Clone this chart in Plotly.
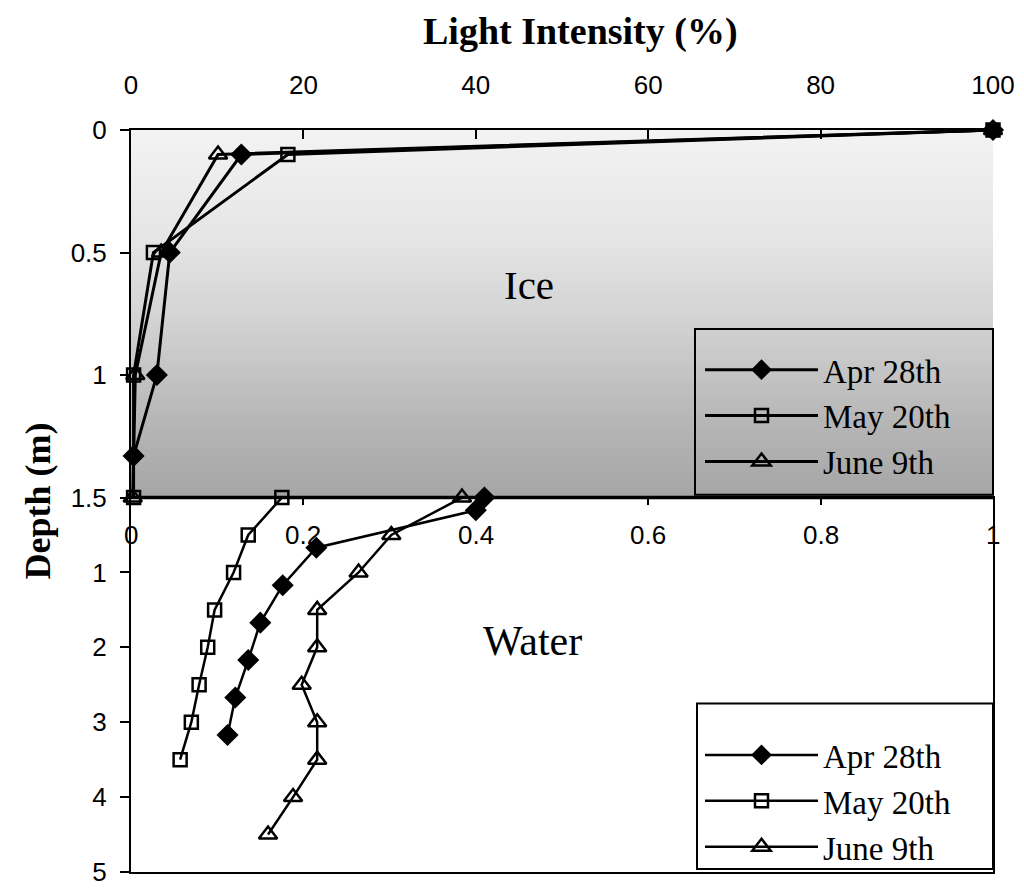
import base64
import struct
import zlib

import plotly.graph_objects as go

# ---------------- data ----------------
SERIES = ["Apr 28th", "May 20th", "June 9th"]

# Ice panel: light intensity (%) vs depth (m)
ICE_DEPTH_APR = [0, 0.1, 0.5, 1.0, 1.33]
ICE_LIGHT_APR = [100, 12.8, 4.5, 3.0, 0.3]
ICE_DEPTH_MAY = [0, 0.1, 0.5, 1.0, 1.5]
ICE_LIGHT_MAY = [100, 18.2, 2.6, 0.3, 0.3]
ICE_DEPTH_JUNE = [0, 0.1, 0.5, 1.0, 1.5]
ICE_LIGHT_JUNE = [100, 10.1, 3.5, 0.5, 0.2]

# Water panel: light intensity (%) vs depth below ice (m)
WATER_DEPTH_APR = [0, 0.17, 0.67, 1.17, 1.67, 2.17, 2.67, 3.17]
WATER_LIGHT_APR = [0.41, 0.40, 0.215, 0.176, 0.15, 0.136, 0.121, 0.112]
WATER_DEPTH_MAY = [0, 0.5, 1, 1.5, 2, 2.5, 3, 3.5]
WATER_LIGHT_MAY = [0.175, 0.136, 0.119, 0.097, 0.089, 0.079, 0.070, 0.057]
WATER_DEPTH_JUNE = [0, 0.5, 1, 1.5, 2, 2.5, 3, 3.5, 4, 4.5]
WATER_LIGHT_JUNE = [0.384, 0.302, 0.264, 0.216, 0.216, 0.198, 0.216, 0.216, 0.188, 0.159]

ICE_X_TICKS = [0, 20, 40, 60, 80, 100]
ICE_Y_TICKS = [0, 0.5, 1, 1.5]
ICE_Y_LABELS = ["0", "0.5", "1", "1.5"]
WATER_X_TICKS = [0, 0.2, 0.4, 0.6, 0.8, 1]
WATER_X_LABELS = ["0", "0.2", "0.4", "0.6", "0.8", "1"]
WATER_Y_TICKS = [1, 2, 3, 4, 5]

# ---------------- ice background gradient (png) ----------------
GRAD_STOPS = [(0.0, 243), (0.3, 229), (0.55, 208), (0.8, 182), (1.0, 166)]


def gray_at(t):
    for (t0, g0), (t1, g1) in zip(GRAD_STOPS[:-1], GRAD_STOPS[1:]):
        if t0 <= t <= t1:
            return int(round(g0 + (g1 - g0) * (t - t0) / (t1 - t0)))
    return GRAD_STOPS[-1][1]


def make_png(w, h):
    rows = []
    for j in range(h):
        g = gray_at(j / (h - 1))
        rows.append(b"\x00" + bytes([g] * w))
    raw = b"".join(rows)

    def chunk(tag, data):
        c = struct.pack(">I", len(data)) + tag + data
        return c + struct.pack(">I", zlib.crc32(tag + data) & 0xFFFFFFFF)

    ihdr = struct.pack(">IIBBBBB", w, h, 8, 0, 0, 0, 0)
    return (b"\x89PNG\r\n\x1a\n" + chunk(b"IHDR", ihdr)
            + chunk(b"IDAT", zlib.compress(raw)) + chunk(b"IEND", b""))


bg_uri = "data:image/png;base64," + base64.b64encode(make_png(4, 128)).decode()

# ---------------- figure ----------------
W, H = 1024, 893
ML, MR, MT, MB = 131, 31, 130, 6
PH = H - MT - MB
ICE_H = 375
split = 1 - ICE_H / PH

fig = go.Figure()

styles = {
    "Apr 28th": dict(symbol="diamond", size=17, color="black", line=dict(width=0, color="black")),
    "May 20th": dict(symbol="square-open", size=13, color="black", line=dict(width=2.5, color="black")),
    "June 9th": dict(symbol="triangle-up-open", size=16, color="black", line=dict(width=2.5, color="black")),
}
ice_data = {
    "Apr 28th": (ICE_LIGHT_APR, ICE_DEPTH_APR),
    "May 20th": (ICE_LIGHT_MAY, ICE_DEPTH_MAY),
    "June 9th": (ICE_LIGHT_JUNE, ICE_DEPTH_JUNE),
}
water_data = {
    "Apr 28th": (WATER_LIGHT_APR, WATER_DEPTH_APR),
    "May 20th": (WATER_LIGHT_MAY, WATER_DEPTH_MAY),
    "June 9th": (WATER_LIGHT_JUNE, WATER_DEPTH_JUNE),
}
draw_order = ["June 9th", "May 20th", "Apr 28th"]
rank = {name: i + 1 for i, name in enumerate(SERIES)}

for name in draw_order:
    x, y = ice_data[name]
    fig.add_trace(go.Scatter(
        x=x, y=y, name=name, mode="lines+markers", xaxis="x", yaxis="y",
        line=dict(color="black", width=3), marker=styles[name], cliponaxis=False,
        legend="legend", legendrank=rank[name]))
for name in draw_order:
    x, y = water_data[name]
    fig.add_trace(go.Scatter(
        x=x, y=y, name=name, mode="lines+markers", xaxis="x2", yaxis="y2",
        line=dict(color="black", width=2.5), marker=styles[name], cliponaxis=False,
        legend="legend2", legendrank=rank[name]))

tick_font = dict(family="Liberation Sans, Arial, sans-serif", size=26, color="black")
leg_font = dict(family="Liberation Serif, Times New Roman, serif", size=33, color="black")

fig.update_layout(
    width=W, height=H,
    margin=dict(l=ML, r=MR, t=MT, b=MB, pad=0),
    paper_bgcolor="white", plot_bgcolor="white",
    showlegend=True,
    xaxis=dict(domain=[0, 1], anchor="y", side="top", range=[0, 100],
               tickvals=ICE_X_TICKS, ticks="inside", ticklen=9, tickwidth=1.5,
               tickcolor="black", showline=True, linecolor="black", linewidth=2,
               showgrid=False, zeroline=False, tickfont=tick_font,
               ticklabelstandoff=24),
    yaxis=dict(domain=[split, 1], anchor="x", range=[1.5, 0],
               tickvals=ICE_Y_TICKS, ticktext=ICE_Y_LABELS, ticks="outside",
               ticklen=9, tickwidth=1.5, tickcolor="black", showline=True,
               linecolor="black", linewidth=2, showgrid=False, zeroline=False,
               tickfont=tick_font, ticklabelstandoff=8),
    xaxis2=dict(domain=[0, 1], anchor="y2", side="top", range=[0, 1],
                tickvals=WATER_X_TICKS, ticks="inside", showticklabels=False,
                ticklen=7, tickwidth=1.5, tickcolor="black",
                showline=True, mirror=True,
                linecolor="black", linewidth=2, showgrid=False, zeroline=False),
    yaxis2=dict(domain=[0, split], anchor="x2", range=[5, 0],
                tickvals=WATER_Y_TICKS, ticks="outside", ticklen=9, tickwidth=1.5,
                tickcolor="black", showline=True, mirror=True, linecolor="black",
                linewidth=2, showgrid=False, zeroline=False, tickfont=tick_font,
                ticklabelstandoff=8),
    legend=dict(x=(700 - ML) / 862, y=(H - MB - 346) / PH, xanchor="left", yanchor="top",
                bgcolor="rgba(0,0,0,0)", borderwidth=0, font=leg_font,
                itemwidth=113, tracegroupgap=0, itemclick=False),
    legend2=dict(x=(700 - ML) / 862, y=(H - MB - 739) / PH, xanchor="left", yanchor="top",
                 bgcolor="rgba(0,0,0,0)", borderwidth=0, font=leg_font,
                 itemwidth=113, tracegroupgap=0, itemclick=False),
    images=[dict(source=bg_uri, xref="x domain", yref="y domain", x=0, y=1,
                 sizex=1, sizey=1, xanchor="left", yanchor="top",
                 sizing="stretch", layer="below")],
)


def px_x(p):
    return (p - ML) / (W - ML - MR)


def px_y(p):
    return (H - MB - p) / PH


shapes = [
    # boundary between ice and water (thick)
    dict(type="line", xref="paper", yref="paper", x0=0, x1=1,
         y0=split, y1=split, line=dict(color="black", width=3.5)),
    # legend boxes
    dict(type="rect", xref="paper", yref="paper", x0=px_x(695), x1=px_x(993),
         y0=px_y(502), y1=px_y(333), line=dict(color="black", width=2)),
    dict(type="rect", xref="paper", yref="paper", x0=px_x(697), x1=px_x(993),
         y0=px_y(884), y1=px_y(715), line=dict(color="black", width=2),
         fillcolor="rgba(0,0,0,0)"),
]
fig.update_layout(shapes=shapes)

# water x-axis tick labels (drawn inside the panel, just under its top line)
for val, lab in zip(WATER_X_TICKS, WATER_X_LABELS):
    fig.add_annotation(text=lab, xref="x2", yref="y2", x=val, y=0, yanchor="top",
                       xanchor="center", yshift=-20, showarrow=False,
                       font=tick_font)

serif = "Liberation Serif, Times New Roman, serif"
fig.add_annotation(text="<b>Light Intensity (%)</b>", xref="paper", yref="paper",
                   x=px_x(580), y=px_y(30), xanchor="center", yanchor="middle",
                   showarrow=False,
                   font=dict(family=serif, size=38, color="black"))
fig.add_annotation(text="<b>Depth (m)</b>", xref="paper", yref="paper",
                   x=px_x(38), y=px_y(509), xanchor="center", yanchor="middle",
                   showarrow=False, textangle=-90,
                   font=dict(family=serif, size=36, color="black"))
fig.add_annotation(text="Ice", xref="paper", yref="paper",
                   x=px_x(529), y=px_y(288), xanchor="center", yanchor="middle",
                   showarrow=False,
                   font=dict(family=serif, size=41, color="black"))
fig.add_annotation(text="Water", xref="paper", yref="paper",
                   x=px_x(532), y=px_y(651), xanchor="center", yanchor="middle",
                   showarrow=False,
                   font=dict(family=serif, size=42, color="black"))

fig.write_html("out.html")
